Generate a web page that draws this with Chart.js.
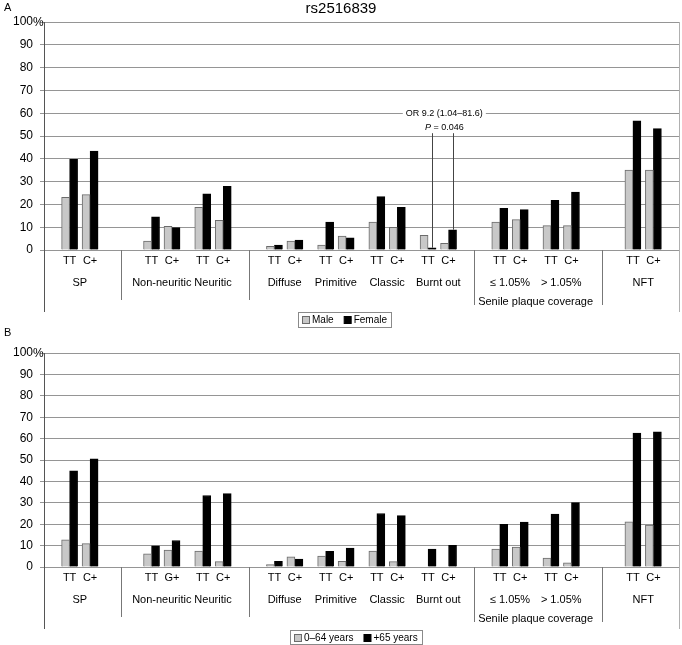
<!DOCTYPE html>
<html>
<head>
<meta charset="utf-8">
<script src="https://cdn.jsdelivr.net/npm/chart.js@4.4.1/dist/chart.umd.min.js"></script>
<style>
  body { margin: 0; background: #fff; }
  #wrap { position: relative; width: 682px; height: 645px; font-family: "Liberation Sans", Arial, sans-serif; }
  canvas { position: absolute; left: 0; }
  .txt { position: absolute; color: #000; white-space: nowrap; }
</style>
</head>
<body>
<div id="wrap">
  <canvas id="chartA" width="682" height="330" style="top:0"></canvas>
  <canvas id="chartB" width="682" height="315" style="top:330px"></canvas>
  <div class="txt" style="left:4px;top:1px;font-size:11px">A</div>
  <div class="txt" style="left:0;width:682px;text-align:center;top:-1px;font-size:15px">rs2516839</div>
  <div class="txt" style="left:4px;top:326px;font-size:11px">B</div>
</div>
<script>
// categories
const subgroups = ['SP', 'Non-neuritic', 'Neuritic', 'Diffuse', 'Primitive', 'Classic', 'Burnt out', '≤ 1.05%', '> 1.05%', 'NFT'];
const outerOf = [0, 1, 1, 2, 2, 2, 2, 3, 3, 4];
const outerLabels = ['', '', '', 'Senile plaque coverage', ''];
const genotypesA = ['TT', 'C+', 'TT', 'C+', 'TT', 'C+', 'TT', 'C+', 'TT', 'C+', 'TT', 'C+', 'TT', 'C+', 'TT', 'C+', 'TT', 'C+', 'TT', 'C+'];
const genotypesB = ['TT', 'C+', 'TT', 'G+', 'TT', 'C+', 'TT', 'C+', 'TT', 'C+', 'TT', 'C+', 'TT', 'C+', 'TT', 'C+', 'TT', 'C+', 'TT', 'C+'];

// series (%), one value per genotype bar
const maleA   = [23.1, 24.3, 3.9, 10.4, 18.7, 13.0, 1.6, 3.9, 2.2, 6.1, 12.3, 9.9, 6.4, 2.9, 12.3, 13.3, 10.7, 10.7, 35.1, 35.1];
const femaleA = [39.8, 43.4, 14.6, 9.8, 24.6, 27.9, 2.2, 4.4, 12.3, 5.3, 23.4, 18.7, 1.0, 8.9, 18.3, 17.7, 21.8, 25.4, 56.7, 53.2];
const youngB  = [12.7, 10.9, 6.2, 7.9, 7.4, 2.5, 1.1, 4.7, 5.1, 2.7, 7.4, 2.5, 0, 0, 8.4, 9.3, 4.2, 1.9, 21.1, 19.6];
const oldB    = [44.9, 50.5, 9.9, 12.4, 33.4, 34.3, 2.6, 3.7, 7.3, 8.8, 25.0, 24.0, 8.4, 10.1, 19.9, 21.0, 24.7, 30.1, 62.6, 63.2];

const FONT = '"Liberation Sans", Arial, sans-serif';
Chart.defaults.font.family = FONT;
Chart.defaults.color = '#000';

// blank category slots used for spacing on the x axis
const lead = 2, pairGap = 2, outerGaps = [5, 4, 4, 5], tail = 2;

function buildSlots(genotypes) {
    var labels = [];
    var index = [];
    for (let i = 0; i < lead; i++) labels.push('');
    subgroups.forEach(function(name, g) {
        if (g > 0) {
            var gap = outerOf[g] === outerOf[g - 1] ? pairGap : outerGaps[outerOf[g] - 1];
            for (let i = 0; i < gap; i++) labels.push('');
        }
        index.push(labels.length);
        labels.push(genotypes[2 * g]);
        labels.push('');
        index.push(labels.length);
        labels.push(genotypes[2 * g + 1]);
    });
    for (let i = 0; i < tail; i++) labels.push('');
    return { labels: labels, index: index };
}

function spread(values, index, n) {
    var out = new Array(n).fill(null);
    values.forEach(function(v, i) { out[index[i]] = v; });
    return out;
}

function line(ctx, x1, y1, x2, y2, color) {
    ctx.strokeStyle = color;
    ctx.lineWidth = 1;
    ctx.beginPath();
    ctx.moveTo(x1, y1);
    ctx.lineTo(x2, y2);
    ctx.stroke();
}

const decor = {
    id: 'decor',
    afterDraw(chart, args, opts) {
        var ctx = chart.ctx, area = chart.chartArea;
        var xs = chart.scales.x, ys = chart.scales.y;
        var slots = opts.slots;
        var px = function(v) { return xs.getPixelForValue(v); };
        ctx.save();

        // frame lines below / right of the plot
        var r = Math.round(area.right) + 0.5, l = Math.round(area.left) + 0.5;
        line(ctx, r, area.top, r, area.bottom + 62, '#b0b0b0');
        line(ctx, l, area.bottom, l, area.bottom + 62, '#555');

        // separators between outer groups
        for (let g = 1; g < subgroups.length; g++) {
            if (outerOf[g] === outerOf[g - 1]) continue;
            var xm = Math.round(px((slots[2 * g - 1] + slots[2 * g]) / 2)) + 0.5;
            var tall = outerLabels[outerOf[g]] || outerLabels[outerOf[g - 1]];
            line(ctx, xm, area.bottom, xm, area.bottom + (tall ? 55 : 50), '#777');
        }

        // second and third label rows
        ctx.fillStyle = '#000';
        ctx.textAlign = 'center';
        ctx.textBaseline = 'middle';
        ctx.font = '11px ' + FONT;
        subgroups.forEach(function(name, g) {
            var xc = (px(slots[2 * g]) + px(slots[2 * g + 1])) / 2;
            ctx.fillText(name, xc, area.bottom + 33);
        });
        outerLabels.forEach(function(name, o) {
            if (!name) return;
            var first = outerOf.indexOf(o), last = outerOf.lastIndexOf(o);
            var xc = (px(slots[2 * first]) + px(slots[2 * last + 1])) / 2;
            ctx.fillText(name, xc, area.bottom + 52);
        });

        // percent sign after the top tick
        ctx.font = '12px ' + FONT;
        ctx.textAlign = 'left';
        ctx.fillText('%', area.left - 11, ys.getPixelForValue(100) + 1);

        // legend with a frame
        ctx.font = '10px ' + FONT;
        var sw = 7, gap = 3, between = 10, pad = 4;
        var items = chart.data.datasets.map(function(d) {
            return { text: d.label, fill: d.backgroundColor, edge: d.borderColor, w: sw + gap + ctx.measureText(d.label).width };
        });
        var total = pad * 2 + between * (items.length - 1);
        items.forEach(function(it) { total += it.w; });
        var lx = Math.round(opts.legendX - total / 2), top = opts.legendTop, h = opts.legendH;
        ctx.strokeStyle = '#8a8a8a';
        ctx.strokeRect(lx + 0.5, top + 0.5, Math.round(total), h);
        lx += pad;
        items.forEach(function(it) {
            var sy = Math.round(top + (h - sw) / 2) + 0.5;
            ctx.fillStyle = it.fill;
            ctx.fillRect(lx + 0.5, sy, sw, sw);
            ctx.strokeStyle = it.edge;
            ctx.strokeRect(lx + 0.5, sy, sw, sw);
            ctx.fillStyle = '#000';
            ctx.fillText(it.text, lx + sw + gap, top + h / 2 + 1);
            lx += it.w + between;
        });

        // odds ratio note
        if (opts.note) {
            var note = opts.note;
            var meta = chart.getDatasetMeta(1);
            var b1 = meta.data[slots[2 * note.pair]], b2 = meta.data[slots[2 * note.pair + 1]];
            var yl = ys.getPixelForValue(note.at);
            var xc = (b1.x + b2.x) / 2 + 2;
            ctx.font = '9px ' + FONT;
            var w = ctx.measureText(note.text).width;
            ctx.fillStyle = '#fff';
            ctx.fillRect(xc - w / 2 - 3, yl - 3, w + 6, 6);
            ctx.fillStyle = '#000';
            ctx.textAlign = 'center';
            ctx.fillText(note.text, xc, yl);
            var wp = ctx.measureText('P').width;
            var rest = ' = ' + note.p;
            var wr = ctx.measureText(rest).width;
            var sx = xc - (wp + wr) / 2;
            ctx.textAlign = 'left';
            ctx.font = 'italic 9px ' + FONT;
            ctx.fillText('P', sx, yl + 14);
            ctx.font = '9px ' + FONT;
            ctx.fillText(rest, sx + wp, yl + 14);
            [b1, b2].forEach(function(b) {
                var bx = Math.round(b.x) + 0.5;
                line(ctx, bx, yl + 20, bx, b.y, '#444');
            });
        }
        ctx.restore();
    }
};

function drawChart(canvasId, genotypes, series, extra) {
    var s = buildSlots(genotypes);
    var n = s.labels.length;
    var ctx = document.getElementById(canvasId);
    return new Chart(ctx, {
        type: 'bar',
        data: {
            labels: s.labels,
            datasets: series.map(function(d) {
                return {
                    label: d.label,
                    data: spread(d.values, s.index, n),
                    backgroundColor: d.fill,
                    borderColor: d.edge,
                    borderWidth: 1,
                    barThickness: 8
                };
            })
        },
        options: {
            responsive: false,
            animation: false,
            devicePixelRatio: 1,
            layout: { padding: extra.padding },
            plugins: {
                legend: { display: false },
                tooltip: { enabled: false },
                decor: Object.assign({ slots: s.index }, extra.decor)
            },
            scales: {
                x: {
                    grid: { display: false, drawTicks: false },
                    border: { display: false },
                    ticks: { autoSkip: false, maxRotation: 0, minRotation: 0, padding: 4, font: { size: 11 }, color: '#000' },
                    afterFit: function(scale) { scale.height = 62; }
                },
                y: {
                    min: 0,
                    max: 100,
                    ticks: { stepSize: 10, padding: 7, font: { size: 12 }, color: '#000' },
                    grid: { color: '#959595', tickLength: 4 },
                    border: { color: '#555' },
                    afterFit: function(scale) { scale.width = 44; }
                }
            }
        },
        plugins: [decor]
    });
}

drawChart('chartA', genotypesA, [
    { label: 'Male', values: maleA, fill: '#c8c8c8', edge: '#6b6b6b' },
    { label: 'Female', values: femaleA, fill: '#000000', edge: '#000000' }
], {
    padding: { top: 22, right: 3, bottom: 18, left: 0 },
    decor: {
        legendX: 345, legendTop: 312, legendH: 15,
        note: { pair: 6, at: 60, text: 'OR 9.2 (1.04–81.6)', p: '0.046' }
    }
});

drawChart('chartB', genotypesB, [
    { label: '0–64 years', values: youngB, fill: '#c8c8c8', edge: '#6b6b6b' },
    { label: '+65 years', values: oldB, fill: '#000000', edge: '#000000' }
], {
    padding: { top: 23, right: 3, bottom: 16, left: 0 },
    decor: { legendX: 356, legendTop: 300, legendH: 14 }
});
</script>
</body>
</html>
